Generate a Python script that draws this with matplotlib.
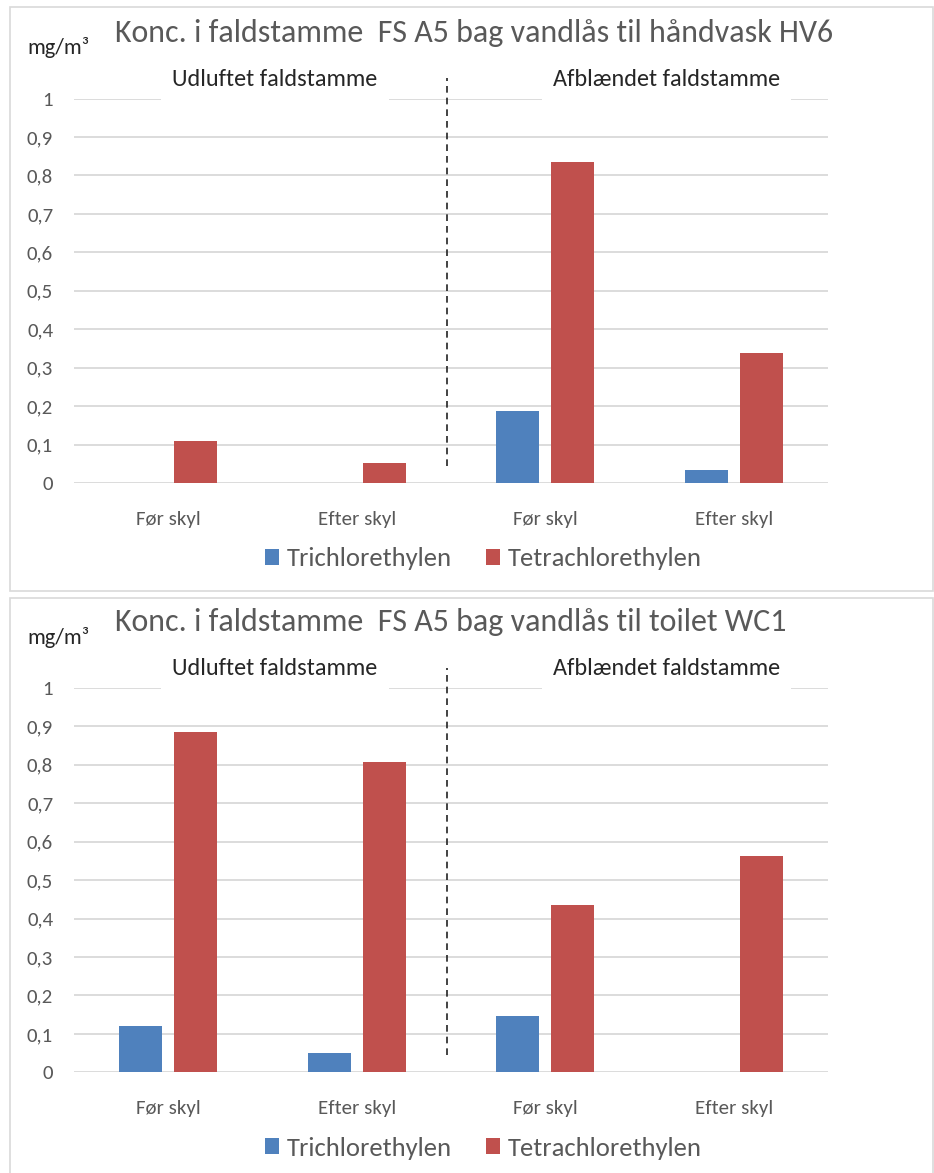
import matplotlib
matplotlib.use("Agg")
import matplotlib.pyplot as plt
from matplotlib import font_manager
from matplotlib.patches import Rectangle
import numpy as np

categories = ["Før skyl", "Efter skyl", "Før skyl", "Efter skyl"]
series_names = ["Trichlorethylen", "Tetrachlorethylen"]
group_names = ["Udluftet faldstamme", "Afblændet faldstamme"]
titles = ["Konc. i faldstamme  FS A5 bag vandlås til håndvask HV6",
          "Konc. i faldstamme  FS A5 bag vandlås til toilet WC1"]
unit = "mg/m³"

# HV6 (haandvask)
tri_hv6 = [0.0, 0.0, 0.187, 0.034]
tetra_hv6 = [0.109, 0.051, 0.834, 0.339]
# WC1 (toilet)
tri_wc1 = [0.121, 0.051, 0.147, 0.0]
tetra_wc1 = [0.884, 0.808, 0.434, 0.563]

yticks = [0, 0.1, 0.2, 0.3, 0.4, 0.5, 0.6, 0.7, 0.8, 0.9, 1]
ytick_labels = ["0", "0,1", "0,2", "0,3", "0,4", "0,5", "0,6", "0,7", "0,8", "0,9", "1"]

BLUE = "#4f81bd"
RED = "#c0504d"
GRID = "#d9d9d9"
TXT = "#595959"

# pick a narrow-ish humanist font
avail = {f.name for f in font_manager.fontManager.ttflist}
for fam in ["Carlito", "Liberation Sans Narrow", "Lato", "DejaVu Sans"]:
    if fam in avail:
        FONT = fam
        break
plt.rcParams["font.family"] = [FONT, "DejaVu Sans"]

W, H = 934, 1173
fig = plt.figure(figsize=(W / 100, H / 100), dpi=100)
fig.patch.set_facecolor("white")


def fx(px):
    return px / W


def fy(py):
    return 1 - py / H


def draw_panel(frame_top, top, title, tri, tetra):
    # panel frame
    fig.add_artist(Rectangle((fx(10), fy(frame_top + 584)), fx(923), 584 / H,
                             transform=fig.transFigure, fill=False,
                             ec=GRID, lw=1.2))
    y0, y1 = top + 476, top + 91.6
    ax = fig.add_axes([fx(74), fy(y0), fx(828 - 74), (y0 - y1) / H])
    x = np.arange(len(categories))
    w = 0.228
    off = 0.146
    ax.bar(x - off, tri, w, color=BLUE, label=series_names[0], zorder=3)
    ax.bar(x + off, tetra, w, color=RED, label=series_names[1], zorder=3)
    ax.set_xlim(-0.5, 3.5)
    ax.set_ylim(0, 1)
    ax.set_yticks(yticks)
    ax.set_yticklabels(ytick_labels)
    ax.set_xticks(x)
    ax.set_xticklabels(categories)
    ax.tick_params(length=0, labelsize=15, colors=TXT)
    ax.tick_params(axis="x", pad=20)
    ax.tick_params(axis="y", pad=15)
    for s in ax.spines.values():
        s.set_visible(False)
    ax.yaxis.grid(True, color=GRID, lw=1.3, zorder=0)
    ax.set_axisbelow(True)

    # separator between the two groups
    ax.plot([1.48, 1.48], [0.045, 1.053], color="#222222", lw=1.2,
            ls=(0, (4, 3)), clip_on=False, zorder=4)
    for name, cx in zip(group_names, [0.2666, 0.7858]):
        ax.text(cx, 1.05, name, transform=ax.transAxes, ha="center",
                va="center", fontsize=17.5, color="#262626", zorder=5,
                bbox=dict(fc="white", ec="none", pad=8))

    fig.text(fx(115), fy(top + 26), title, fontsize=23, color=TXT,
             ha="left", va="center")
    fig.text(fx(58), fy(top + 41), unit, fontsize=16, color="#262626",
             ha="center", va="center")

    ax.legend(loc="center", bbox_to_anchor=(0.543, -0.197), ncol=2,
              frameon=False, fontsize=19.2, labelcolor=TXT,
              handlelength=0.52, handleheight=0.52, handletextpad=0.3,
              columnspacing=1.3)
    return ax


draw_panel(7, 7, titles[0], tri_hv6, tetra_hv6)
draw_panel(598, 596.3, titles[1], tri_wc1, tetra_wc1)

fig.savefig("out.png", dpi=100)
